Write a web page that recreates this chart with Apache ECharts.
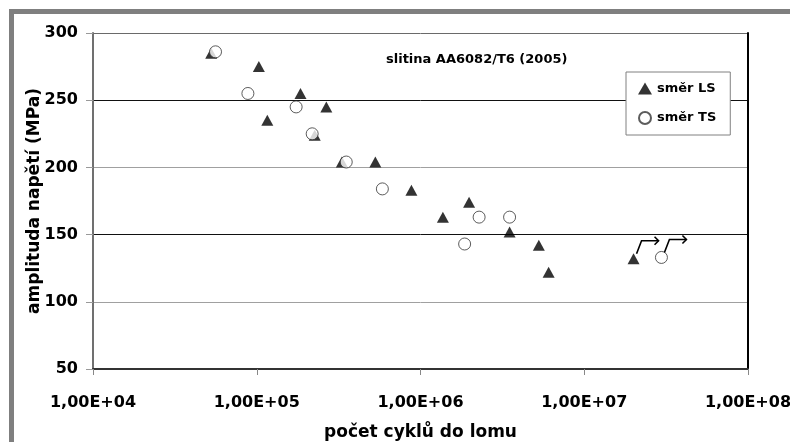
<!DOCTYPE html>
<html>
<head>
<meta charset="utf-8">
<script src="https://cdn.jsdelivr.net/npm/echarts@6/dist/echarts.min.js"></script>
<style>
  html, body { margin: 0; padding: 0; background: #fff; }
  #frame { position: absolute; left: 9px; top: 9px; width: 781px; height: 433px;
           border-top: 5px solid #7f7f7f; border-left: 5px solid #7f7f7f; box-sizing: border-box; }
  #chart { position: absolute; left: 0; top: 0; width: 790px; height: 442px; }
</style>
</head>
<body>
<div id="frame"></div>
<div id="chart"></div>
<script>
// údaje
const lsCycles = [5.27e4, 1.03e5, 1.16e5, 1.85e5, 2.26e5, 2.66e5, 3.31e5, 5.3e5, 8.8e5, 1.37e6, 1.98e6, 3.5e6, 5.28e6, 6.06e6, 2.0e7];
const lsStress = [285, 275, 235, 255, 224, 245, 204, 204, 183, 163, 174, 152, 142, 122, 132];
const tsCycles = [5.6e4, 8.83e4, 1.74e5, 2.18e5, 3.52e5, 5.85e5, 1.86e6, 2.28e6, 3.5e6, 2.96e7];
const tsStress = [286, 255, 245, 225, 204, 184, 143, 163, 163, 133];
// vzorky bez lomu (šipka)
const runoutCycles = [2.0e7, 2.96e7];
const runoutStress = [132, 133];

const xTickLabels = ['1,00E+04', '1,00E+05', '1,00E+06', '1,00E+07', '1,00E+08'];
const yTicks = [50, 100, 150, 200, 250, 300];

const FONT = 'DejaVu Sans';
const chart = echarts.init(document.getElementById('chart'), null, { renderer: 'canvas' });

const zip = (xs, ys) => xs.map((x, i) => [x, ys[i]]);

const option = {
  animation: false,
  textStyle: { fontFamily: FONT },
  title: {
    text: 'slitina AA6082/T6 (2005)',
    left: 381, top: 48,
    textStyle: { fontFamily: FONT, fontSize: 13, fontWeight: 'bold', color: '#000' }
  },
  legend: {
    orient: 'vertical',
    left: 626, top: 72,
    padding: [10, 14, 10, 12],
    itemWidth: 14, itemHeight: 12, itemGap: 16,
    backgroundColor: '#fff',
    borderColor: '#808080', borderWidth: 1,
    textStyle: { fontFamily: FONT, fontSize: 13, fontWeight: 'bold', color: '#000' },
    data: [
      { name: 'směr LS', icon: 'triangle' },
      { name: 'směr TS', icon: 'circle' }
    ]
  },
  grid: { left: 93, right: 42, top: 33, bottom: 73, outerBoundsMode: 'none', containLabel: false },
  xAxis: {
    type: 'log', logBase: 10, min: 1e4, max: 1e8,
    name: 'počet cyklů do lomu', nameLocation: 'middle', nameGap: 55,
    nameTextStyle: { fontFamily: FONT, fontSize: 17, fontWeight: 'bold', color: '#000' },
    axisLine: { lineStyle: { color: '#333', width: 2 } },
    axisTick: { length: 6, lineStyle: { color: '#888' } },
    axisLabel: {
      margin: 26, fontFamily: FONT, fontSize: 16, fontWeight: 'bold', color: '#000',
      formatter: v => xTickLabels[Math.round(Math.log10(v)) - 4]
    },
    splitLine: { show: false }
  },
  yAxis: [{
    type: 'value', min: yTicks[0], max: yTicks[yTicks.length - 1], interval: 50,
    name: 'amplituda napětí (MPa)', nameLocation: 'middle', nameGap: 50, nameMoveOverlap: false,
    nameTextStyle: { fontFamily: FONT, fontSize: 17, fontWeight: 'bold', color: '#000' },
    axisLine: { show: true, lineStyle: { color: '#707070', width: 2 } },
    axisTick: { show: true, length: 7, lineStyle: { color: '#999' } },
    axisLabel: { margin: 15, fontFamily: FONT, fontSize: 16, fontWeight: 'bold', color: '#000' },
    splitLine: {
      show: true, showMinLine: true, showMaxLine: true,
      lineStyle: { color: ['#444', '#a0a0a0', '#111', '#a0a0a0', '#111', '#6a6a6a'], width: 1 }
    }
  }, {
    type: 'value', position: 'right', min: yTicks[0], max: yTicks[yTicks.length - 1], interval: 50,
    axisLine: { show: true, lineStyle: { color: '#000', width: 2 } },
    axisTick: { show: false }, axisLabel: { show: false }, splitLine: { show: false }
  }],
  series: [
    {
      name: 'směr LS', type: 'scatter', symbol: 'triangle', symbolSize: [12, 11],
      itemStyle: { color: '#000' }, z: 3,
      data: zip(lsCycles, lsStress)
    },
    {
      name: 'směr TS', type: 'scatter', symbol: 'circle', symbolSize: 12,
      itemStyle: { color: '#fff', borderColor: '#333', borderWidth: 1 }, z: 4,
      data: zip(tsCycles, tsStress)
    },
    {
      name: 'runout', type: 'custom', z: 5, silent: true,
      renderItem: function (params, api) {
        const p = api.coord([api.value(0), api.value(1)]);
        const s = { stroke: '#000', lineWidth: 1.6, fill: null };
        return {
          type: 'group',
          children: [
            { type: 'polyline', shape: { points: [[p[0] + 3, p[1] - 5], [p[0] + 8, p[1] - 18], [p[0] + 25, p[1] - 18]] }, style: s },
            { type: 'polyline', shape: { points: [[p[0] + 21, p[1] - 22], [p[0] + 25, p[1] - 18], [p[0] + 21, p[1] - 14]] }, style: s }
          ]
        };
      },
      data: zip(runoutCycles, runoutStress)
    }
  ]
};

chart.setOption(option);
</script>
</body>
</html>
